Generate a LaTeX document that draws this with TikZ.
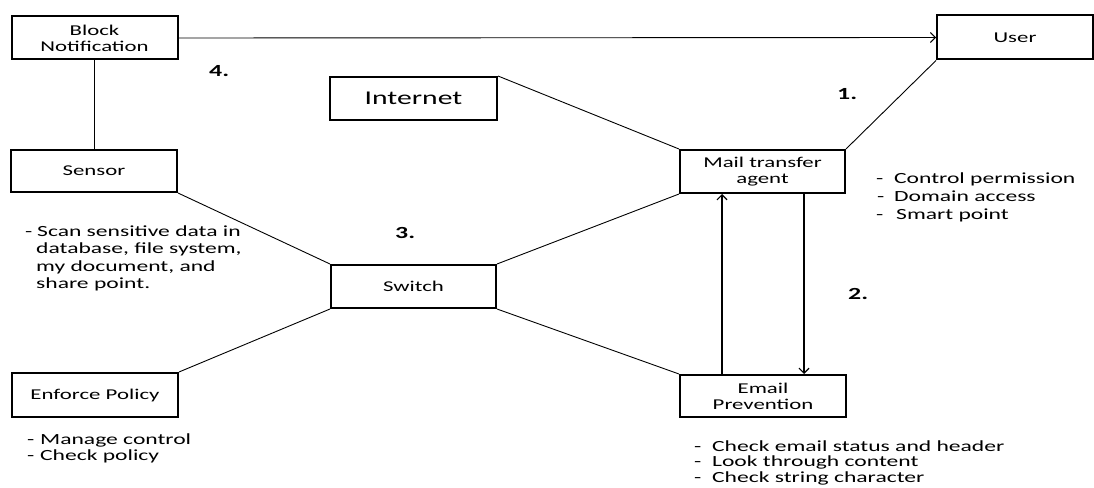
\documentclass[tikz,border=0pt]{standalone}
\usepackage{fontspec}
\setmainfont{Carlito}[FakeStretch=1.52]
\usetikzlibrary{arrows.meta}
\newcommand\bxfont{\fontsize{15}{16.3}\selectfont}
\newcommand\netfont{\fontsize{19.5}{22}\selectfont}
\newcommand\blfont{\fontsize{15.5}{17.5}\selectfont}
\newcommand\nmfont{\fontsize{17}{20}\selectfont\bfseries}
\tikzset{
  box/.style={draw, line width=2pt, inner sep=0pt, align=center, font=\bxfont},
  conn/.style={line width=0.9pt},
  arr/.style={line width=1.2pt, -{Straight Barb[length=5pt,width=10pt]}},
  bul/.style={inner sep=0pt, anchor=base west, font=\blfont},
  num/.style={inner sep=0pt, anchor=base west, font=\nmfont}
}
\begin{document}
\begin{tikzpicture}[x=1pt,y=-1pt]
\useasboundingbox (0,0) rectangle (1094,487);
\clip (0,0) rectangle (1094,487);
\fill[white] (0,0) rectangle (1094,487);
% boxes
\node[box, minimum width=166pt, minimum height=43pt] (block) at (94.5,38) {Block\\Notification};
\node[box, minimum width=156pt, minimum height=44pt] (user) at (1015,37.5) {User};
\node[box, minimum width=167pt, minimum height=43pt, font=\netfont] (net) at (413.5,98.5) {Internet};
\node[box, minimum width=165pt, minimum height=43pt] (mta) at (762.5,171.5) {Mail transfer\\agent};
\node[box, minimum width=166pt, minimum height=42pt] (sensor) at (94,171) {Sensor};
\node[box, minimum width=165pt, minimum height=43pt] (switch) at (413.5,286.5) {Switch};
\node[box, minimum width=166pt, minimum height=44pt] (enf) at (95,395) {Enforce Policy};
\node[box, minimum width=166pt, minimum height=42pt] (ep) at (763,396) {Email\\Prevention};
% connectors
\draw[conn,-{Straight Barb[length=5pt,width=10pt]}] (block.east) -- (user.west);
\draw[conn] (block.south) -- (block.south |- sensor.north);
\draw[conn] (net.north east) -- (mta.north west);
\draw[conn] (user.south west) -- (mta.north east);
\draw[conn] (sensor.south east) -- (switch.north west);
\draw[conn] (switch.north east) -- (mta.south west);
\draw[conn] (switch.south east) -- (ep.north west);
\draw[conn] (switch.south west) -- (enf.north east);
\draw[arr] ([xshift=-41pt]ep.north) -- ([xshift=-41pt]ep.north |- mta.south);
\draw[arr] ([xshift=41.5pt]mta.south) -- ([xshift=41.5pt]mta.south |- ep.north);
% numbers
\node[num] (n4) at (209,77) {4.};
\node[num] (n1) at (837,99) {1.};
\node[num] (n2) at (848,299) {2.};
\node[num] (n3) at (395,238) {3.};
% bullet texts
\node[bul] (s1) at (25,236) {\makebox[12pt][l]{-}Scan sensitive data in};
\node[bul] (s2) at (36,253.5) {database, file system,};
\node[bul] (s3) at (36,271) {my document, and};
\node[bul] (s4) at (36,288.5) {share point.};
\node[bul] (m1) at (876,183) {\makebox[18pt][l]{-}Control permission};
\node[bul] (m2) at (877,201) {\makebox[17pt][l]{-}Domain access};
\node[bul] (m3) at (876,219) {\makebox[20pt][l]{-}Smart point};
\node[bul] (e1) at (694,451) {\makebox[18pt][l]{-}Check email status and header};
\node[bul] (e2) at (694,466.5) {\makebox[18pt][l]{-}Look through content};
\node[bul] (e3) at (694,482) {\makebox[18pt][l]{-}Check string character};
\node[bul] (p1) at (27,444.5) {\makebox[13pt][l]{-}Manage control};
\node[bul] (p2) at (27,460.5) {\makebox[13pt][l]{-}Check policy};
\end{tikzpicture}
\end{document}
